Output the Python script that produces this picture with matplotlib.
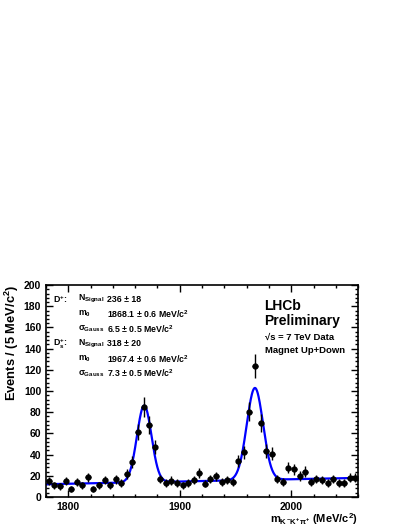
import numpy as np
import matplotlib
matplotlib.use("Agg")
import matplotlib.pyplot as plt
from matplotlib.ticker import MultipleLocator

plt.rcParams["font.family"] = ["Liberation Sans", "DejaVu Sans"]
plt.rcParams["font.weight"] = "bold"
plt.rcParams["mathtext.fontset"] = "custom"
plt.rcParams["mathtext.rm"] = "Liberation Sans:bold"
plt.rcParams["mathtext.it"] = "Liberation Sans:bold"
plt.rcParams["mathtext.bf"] = "Liberation Sans:bold"
plt.rcParams["mathtext.sf"] = "Liberation Sans:bold"

# 5 MeV bins from 1780 to 2060
bin_edges = np.arange(1780, 2065, 5)
counts = [15, 11, 10, 15, 7.5, 14, 11, 18.5, 7.5, 11,
          16, 11, 16.5, 13.5, 22, 33, 61.5, 85, 68, 47,
          17, 13, 15.5, 13, 11, 13, 16, 23, 12.5, 17,
          19.5, 14.5, 16, 14.5, 34, 42, 80.5, 123.5, 70, 43.5,
          41, 17, 14, 27.5, 26, 20, 24, 14.5, 17, 16,
          13, 17, 13, 13, 18, 18]

# fit parameters (from the legend)
n_dp, m_dp, s_dp = 236, 1868.1, 6.5
n_ds, m_ds, s_ds = 318, 1967.4, 7.3
bkg_left, bkg_right = 12.0, 18.0

centers = 0.5 * (bin_edges[:-1] + bin_edges[1:])
counts = np.array(counts)

fig = plt.figure(figsize=(4.07, 5.27), dpi=100)
ax = fig.add_axes([0.113, 0.057, 0.767, 0.402])

x = np.linspace(1780, 2060, 800)
bkg = bkg_left + (bkg_right - bkg_left) * (x - 1780) / 280
gaus = lambda n, m, s: n * 5 / (np.sqrt(2 * np.pi) * s) * np.exp(-0.5 * ((x - m) / s) ** 2)
model = bkg + gaus(n_dp, m_dp, s_dp) + gaus(n_ds, m_ds, s_ds)
ax.plot(x, model, color="#0000ff", lw=1.6, zorder=2)

ax.errorbar(centers, counts, yerr=np.sqrt(counts), xerr=2.5, fmt="o", color="black",
            ms=3.5, elinewidth=1.0, capsize=0, zorder=3)

ax.set_xlim(1780, 2060)
ax.set_ylim(0, 200)
ax.xaxis.set_major_locator(MultipleLocator(100))
ax.xaxis.set_minor_locator(MultipleLocator(20))
ax.yaxis.set_major_locator(MultipleLocator(20))
ax.yaxis.set_minor_locator(MultipleLocator(4))
ax.tick_params(which="both", direction="in", top=True, right=True, labelsize=7.5)
ax.tick_params(which="major", length=5, width=1)
ax.tick_params(which="minor", length=2.5, width=1)
for lab in ax.get_xticklabels() + ax.get_yticklabels():
    lab.set_fontweight("bold")
for sp in ax.spines.values():
    sp.set_linewidth(1.2)

ax.set_ylabel("Events / (5 MeV/c$^2$)", fontsize=9.3, fontweight="bold", loc="top", labelpad=2)
ax.set_xlabel("m$_{K^{-}K^{+}\\pi^{+}}$ (MeV/c$^2$)", fontsize=8, fontweight="bold", loc="right")
ax.xaxis.set_label_coords(1.0, -0.065)

# fit results
fs = 6.3
rows = [("D$^{+}$:", "N$_{Signal}$", "236 \u00b1 18"),
        ("", "m$_{0}$", "1868.1 \u00b1 0.6 MeV/c$^{2}$"),
        ("", "$\\sigma_{Gauss}$", "6.5 \u00b1 0.5 MeV/c$^{2}$"),
        ("D$_{s}^{+}$:", "N$_{Signal}$", "318 \u00b1 20"),
        ("", "m$_{0}$", "1967.4 \u00b1 0.6 MeV/c$^{2}$"),
        ("", "$\\sigma_{Gauss}$", "7.3 \u00b1 0.5 MeV/c$^{2}$")]
row_y = [186.5, 172.5, 158.5, 144.5, 130.5, 116.5]
for (a, b, c), yy in zip(rows, row_y):
    ax.text(1786, yy, a, fontsize=fs, fontweight="bold", va="center")
    ax.text(1809, yy, b, fontsize=fs, fontweight="bold", va="center")
    ax.text(1834.5, yy, c, fontsize=fs, fontweight="bold", va="center")

ax.text(1976, 180, "LHCb", fontsize=10, fontweight="bold", va="center")
ax.text(1976, 166, "Preliminary", fontsize=10, fontweight="bold", va="center")
ax.text(1976, 151, "\u221as = 7 TeV Data", fontsize=6.8, fontweight="bold", va="center")
ax.text(1976, 138, "Magnet Up+Down", fontsize=6.8, fontweight="bold", va="center")

fig.savefig("out.png", dpi=100)
